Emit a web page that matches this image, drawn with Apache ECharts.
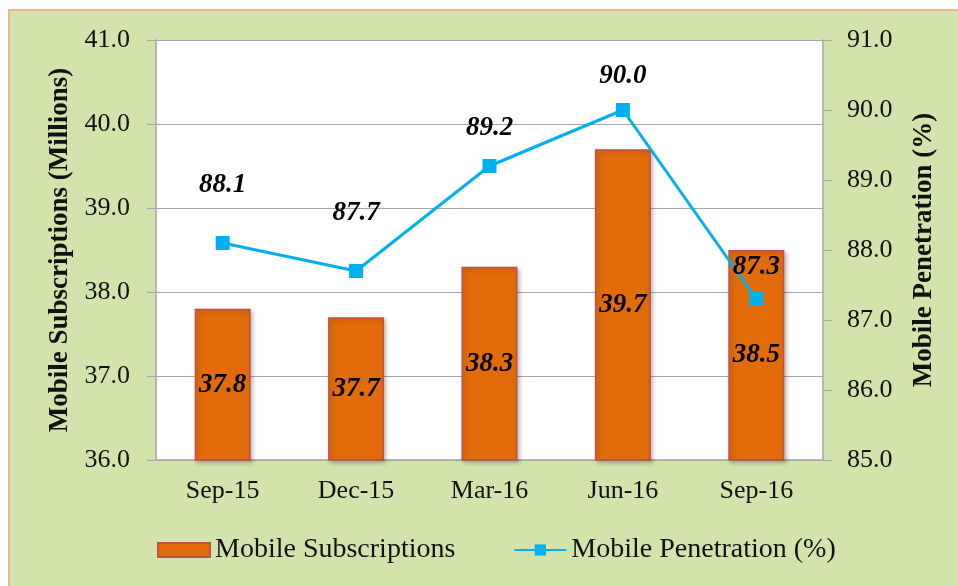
<!DOCTYPE html>
<html>
<head>
<meta charset="utf-8">
<script src="https://cdn.jsdelivr.net/npm/echarts@6/dist/echarts.min.js"></script>
<style>
    html, body {margin: 0; padding: 0; background: #fff;}
    #chart {width: 958px; height: 586px;}
</style>
</head>
<body>
<div id="chart"></div>
<script>
// data
var quarters = ['Sep-15', 'Dec-15', 'Mar-16', 'Jun-16', 'Sep-16'];
var subscriptions = [37.8, 37.7, 38.3, 39.7, 38.5];
var penetration = [88.1, 87.7, 89.2, 90.0, 87.3];
// distance of each line label above its point
var labelGap = [37, 37, 17, 13, 11];

var serif = '"Liberation Serif", "Times New Roman", serif';

var chart = echarts.init(document.getElementById('chart'));

var lineData = penetration.map(function (v, i) {
    return {value: v, label: {distance: labelGap[i]}};
});

function oneDecimal(v) { return (typeof v === 'number' ? v : v.value).toFixed(1); }

chart.setOption({
    backgroundColor: '#fff',
    animation: false,
    textStyle: {fontFamily: serif},
    graphic: [{
        type: 'rect', z: -10,
        shape: {x: 9, y: 10, width: 960, height: 590},
        style: {fill: '#d2e3ab', stroke: '#f2b48a', lineWidth: 2}
    }],
    grid: {left: 156, right: 135, top: 40, bottom: 126, show: true,
        backgroundColor: '#fff', borderWidth: 0},
    legend: {
        left: 152, top: 531,
        itemWidth: 52, itemHeight: 14, itemGap: 58,
        textStyle: {fontFamily: serif, fontSize: 28, color: '#111'},
        data: [{name: 'Mobile Subscriptions', icon: 'rect'}, 'Mobile Penetration (%)']
    },
    xAxis: {
        type: 'category',
        data: quarters,
        axisLine: {lineStyle: {color: '#a6a6a6', width: 1.5}},
        axisTick: {length: 8, lineStyle: {color: '#a6a6a6'}},
        axisLabel: {fontFamily: serif, fontSize: 26, color: '#111', margin: 18}
    },
    yAxis: [{
        type: 'value', min: 36, max: 41, interval: 1,
        name: 'Mobile Subscriptions (Millions)',
        nameLocation: 'middle', nameGap: 82,
        nameTextStyle: {fontFamily: serif, fontSize: 27, fontWeight: 'bold', color: '#111'},
        axisLine: {show: true, lineStyle: {color: '#a6a6a6', width: 1.5}},
        axisTick: {show: true, length: 9, lineStyle: {color: '#a6a6a6'}},
        axisLabel: {fontFamily: serif, fontSize: 26, color: '#111', margin: 26,
            formatter: oneDecimal},
        splitLine: {lineStyle: {color: '#a6a6a6', width: 1}}
    }, {
        type: 'value', min: 85, max: 91, interval: 1,
        name: 'Mobile Penetration (%)',
        nameLocation: 'middle', nameGap: 88, nameRotate: 90,
        nameTextStyle: {fontFamily: serif, fontSize: 27, fontWeight: 'bold', color: '#111'},
        axisLine: {show: true, lineStyle: {color: '#a6a6a6', width: 1.5}},
        axisTick: {show: true, length: 9, lineStyle: {color: '#a6a6a6'}},
        axisLabel: {fontFamily: serif, fontSize: 26, color: '#111', margin: 24,
            formatter: oneDecimal},
        splitLine: {show: false}
    }],
    series: [{
        name: 'Mobile Subscriptions',
        type: 'bar',
        data: subscriptions,
        barWidth: 56,
        itemStyle: {color: '#e36c0a', borderColor: '#c0504d', borderWidth: 1.5,
            shadowColor: 'rgba(0,0,0,0.25)', shadowBlur: 4, shadowOffsetX: 2, shadowOffsetY: 2},
        label: {show: true, position: 'inside', fontFamily: serif, fontSize: 27,
            fontWeight: 'bold', fontStyle: 'italic', color: '#000',
            formatter: function (p) { return oneDecimal(p.value); }}
    }, {
        name: 'Mobile Penetration (%)',
        type: 'line',
        yAxisIndex: 1,
        data: lineData,
        z: 5,
        symbol: 'rect', symbolSize: 14,
        lineStyle: {color: '#00b0f0', width: 3},
        itemStyle: {color: '#00b0f0'},
        label: {show: true, position: 'top', fontFamily: serif, fontSize: 27,
            fontWeight: 'bold', fontStyle: 'italic', color: '#000',
            formatter: function (p) { return oneDecimal(p.value); }}
    }]
});
</script>
</body>
</html>
